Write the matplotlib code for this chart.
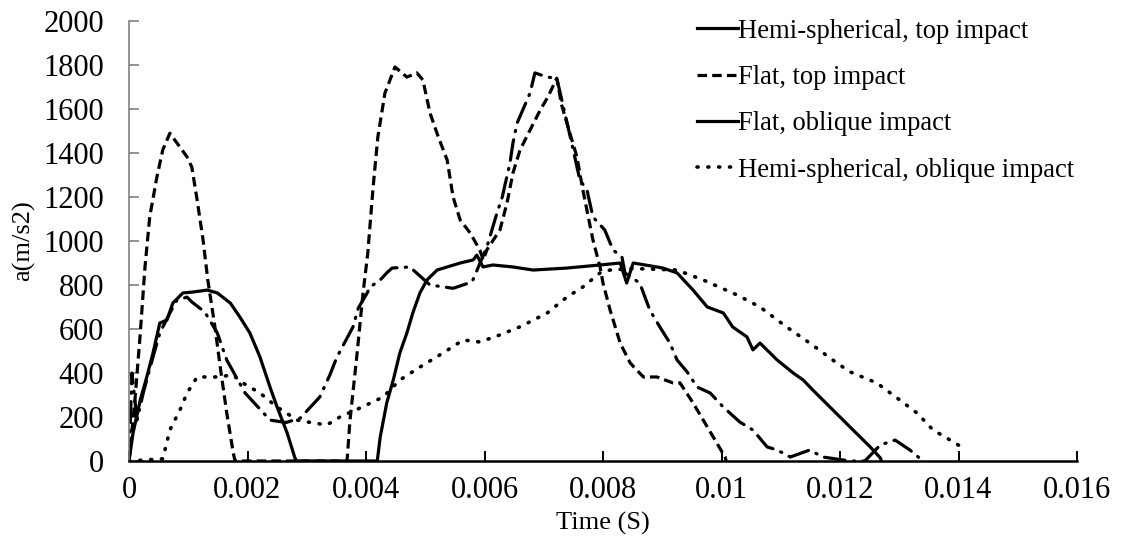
import numpy as np
import matplotlib
matplotlib.use('Agg')
import matplotlib.pyplot as plt
from matplotlib.lines import Line2D

plt.rcParams['font.family'] = ['Liberation Serif', 'DejaVu Serif']

# tiempo en ms, aceleracion en m/s2
t_hemi_top = [0, 0.05, 0.135, 0.24, 0.405, 0.52, 0.69, 0.81, 0.98, 1.06, 1.28, 1.49, 1.65,
              1.96, 2.38, 2.65, 2.89, 3.22, 3.39, 3.51, 3.78, 3.87, 4.02, 4.07, 4.24, 4.35,
              4.44, 4.74, 5.08, 5.47, 5.79, 6.04, 6.21, 6.30, 6.43, 6.48, 6.55, 6.77, 6.85,
              7.06, 7.22, 7.46, 7.61, 7.73, 7.83, 8.03, 8.17, 8.32, 8.37, 8.62, 8.79, 8.96,
              9.13, 9.25, 9.42, 9.59, 9.81, 10.03, 10.31, 10.53, 10.77, 10.94, 11.16, 11.49,
              11.71, 12.17, 12.42, 12.68, 12.93, 13.18, 13.40]
a_hemi_top = [0, 400, 186, 309, 473, 582, 673, 732, 745, 723, 677, 582, 459,
              309, 186, 175, 195, 291, 391, 473, 609, 695, 764, 791, 823, 855,
              877, 882, 800, 785, 814, 973, 1127, 1200, 1355, 1445, 1536, 1673, 1764,
              1745, 1740, 1459, 1277, 1232, 1109, 1050, 959, 927, 855, 809, 686, 609,
              536, 459, 405, 336, 309, 245, 177, 141, 64, 50, 18, 50,
              18, 0, 0, 73, 95, 50, 0]

t_flat_top = [0, 0.10, 0.19, 0.27, 0.35, 0.47, 0.57, 0.69, 0.98, 1.06, 1.15, 1.25, 1.33,
              1.45, 1.54, 1.65, 1.76, 1.79, 3.68, 3.73, 3.85, 3.95, 4.03, 4.12, 4.20, 4.32,
              4.49, 4.69, 4.86, 4.96, 5.08, 5.22, 5.37, 5.47, 5.59, 5.76, 5.92, 5.98, 6.04,
              6.26, 6.38, 6.48, 6.60, 6.77, 6.94, 7.07, 7.22, 7.30, 7.39, 7.56, 7.66, 7.83,
              7.95, 8.00, 8.12, 8.29, 8.46, 8.68, 8.91, 9.18, 9.30, 9.52, 9.76, 9.92, 10.06,
              10.08]
a_flat_top = [0, 277, 580, 883, 1110, 1290, 1414, 1490, 1382, 1336, 1186, 1005, 823,
              610, 427, 218, 36, 0, 0, 186, 490, 763, 945, 1245, 1473, 1673,
              1791, 1745, 1764, 1732, 1582, 1473, 1368, 1200, 1095, 1036, 959, 914, 960,
              1050, 1173, 1309, 1414, 1505, 1595, 1655, 1740, 1620, 1536, 1382, 1232, 1005,
              882, 809, 686, 536, 445, 382, 382, 355, 355, 264, 155, 82, 18,
              0]

t_flat_obl = [0, 0.068, 0.19, 0.30, 0.405, 0.52, 0.64, 0.74, 0.91, 1.08, 1.32, 1.49, 1.71,
              1.87, 2.04, 2.21, 2.38, 2.50, 2.67, 2.80, 2.83, 4.19, 4.24, 4.35, 4.46, 4.57,
              4.69, 4.79, 4.91, 5.03, 5.20, 5.37, 5.59, 5.81, 5.87, 5.975, 6.14, 6.48, 6.82,
              7.39, 7.95, 8.29, 8.40, 8.51, 8.91, 9.01, 9.25, 9.52, 9.76, 10.03, 10.19, 10.43,
              10.53, 10.65, 10.94, 11.21, 11.38, 11.54, 11.88, 12.22, 12.51, 12.68, 12.70]
a_flat_obl = [0, 127, 277, 382, 491, 627, 641, 718, 764, 768, 777, 764, 718,
              655, 582, 473, 336, 245, 127, 14, 0, 0, 109, 264, 368, 490,
              582, 673, 764, 823, 868, 882, 900, 914, 936, 882, 891, 882, 868,
              877, 891, 900, 809, 900, 882, 877, 855, 777, 700, 673, 609, 564,
              505, 536, 459, 400, 368, 323, 232, 141, 64, 14, 0]

t_hemi_obl = [0, 0.57, 0.69, 0.86, 0.98, 1.15, 1.32, 1.49, 1.75, 1.92, 2.21, 2.50, 2.84,
              3.11, 3.34, 3.56, 3.90, 4.29, 4.57, 4.91, 5.30, 5.64, 5.92, 6.26, 6.60, 7.06,
              7.39, 7.66, 7.95, 8.12, 8.50, 9.25, 9.69, 10.26, 10.65, 11.10, 11.49, 11.95,
              12.17, 12.62, 13.01, 13.30, 13.57, 13.86, 14.05]
a_hemi_obl = [0, 10, 141, 232, 309, 382, 382, 382, 391, 355, 309, 245, 186,
              173, 164, 200, 241, 291, 368, 427, 491, 550, 541, 573, 610, 673,
              745, 791, 855, 868, 875, 868, 823, 755, 700, 609, 536, 445,
              405, 355, 277, 218, 141, 95, 64]

fig = plt.figure(figsize=(11.28, 5.5), dpi=100)
ax = fig.add_axes([129 / 1128, 1 - 461 / 550, (1077 - 129) / 1128, (461 - 21) / 550])

lw = 2.3
l1, = ax.plot(np.array(t_hemi_top) * 1e-3, a_hemi_top, color='black', lw=lw,
              dashes=(6.5, 2.6, 0.4, 2.6), dash_capstyle='round')
l2, = ax.plot(np.array(t_flat_top) * 1e-3, a_flat_top, color='black', lw=lw,
              dashes=(3, 1.6))
l3, = ax.plot(np.array(t_flat_obl) * 1e-3, a_flat_obl, color='black', lw=lw)
l4, = ax.plot(np.array(t_hemi_obl) * 1e-3, a_hemi_obl, color='black', lw=2.6,
              dashes=(0.3, 2.7), dash_capstyle='round')

ax.set_xlim(0, 0.016)
ax.set_ylim(0, 2000)
ax.set_xticks(np.arange(0, 0.0161, 0.002))
ax.set_xticklabels(['0', '0.002', '0.004', '0.006', '0.008', '0.01', '0.012', '0.014', '0.016'])
ax.set_yticks(np.arange(0, 2001, 200))

ax.spines['top'].set_visible(False)
ax.spines['right'].set_visible(False)
ax.spines['left'].set_color('#808080')
ax.spines['left'].set_linewidth(1.2)
ax.spines['bottom'].set_linewidth(1.8)
ax.tick_params(axis='y', direction='in', length=7, width=1.2, color='#808080',
               labelsize=22, pad=18)
ax.tick_params(axis='x', direction='in', length=7, width=1.4, labelsize=22, pad=11)

ax.set_xlabel('Time (S)', fontsize=19, labelpad=5)
ax.set_ylabel('a(m/s2)', fontsize=19, labelpad=6)

solid_proxy = Line2D([], [], color='black', lw=lw)
ax.legend([solid_proxy, l2, l3, l4],
          ['Hemi-spherical, top impact', 'Flat, top impact', 'Flat, oblique impact',
           'Hemi-spherical, oblique impact'],
          loc='upper left', bbox_to_anchor=(686 / 1128, 1 - 8 / 550),
          bbox_transform=fig.transFigure, frameon=False, fontsize=19.2,
          handlelength=1.55, handletextpad=0.0, labelspacing=0.8, borderaxespad=0)

plt.savefig('out.png', dpi=100)
